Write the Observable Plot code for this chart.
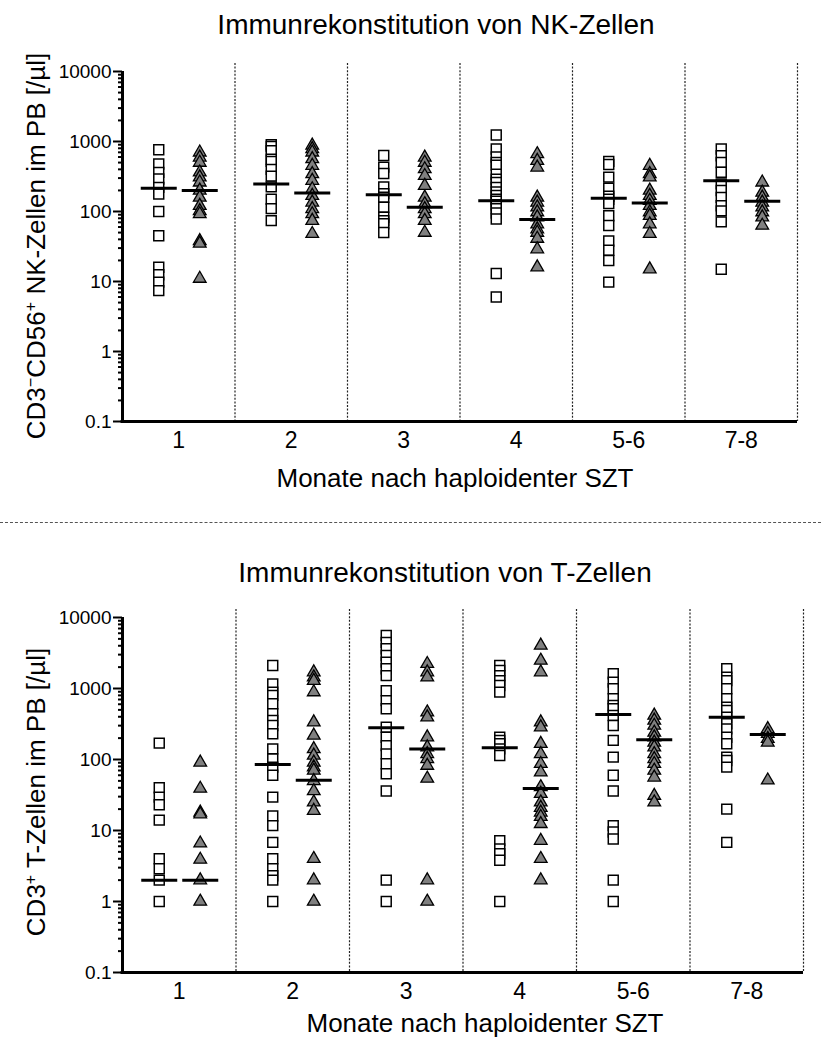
<!DOCTYPE html>
<html>
<head>
<meta charset="utf-8">
<script src="https://cdn.jsdelivr.net/npm/d3@7"></script>
<script src="https://cdn.jsdelivr.net/npm/@observablehq/plot@0.6"></script>
<style>
  body { margin: 0; background: #fff; font-family: "Liberation Sans", Arial, sans-serif; color: #000; }
  #wrap { position: relative; width: 821px; height: 1046px; overflow: hidden; background: #fff; }
  .abs { position: absolute; white-space: nowrap; }
  .txt { z-index: 2; }
  .ctr { transform: translate(-50%, -50%); }
  .rot { transform: translate(-50%, -50%) rotate(-90deg); }
  .title { font-size: 28px; }
  .xlab { font-size: 26px; }
  .ylab { font-size: 26px; }
  sup { font-size: 0.62em; vertical-align: 0.55em; line-height: 0; }
  .sep { position: absolute; left: 0; width: 821px; top: 522px; border-top: 1.3px dashed #555; height: 0; }
</style>
</head>
<body>
<div id="wrap">
  <div id="p1" class="abs" style="left:0; top:0;"></div>
  <div id="p2" class="abs" style="left:0; top:530px;"></div>
  <div class="abs txt ctr title" style="left:436px; top:25px;">Immunrekonstitution von NK-Zellen</div>
  <div class="abs txt rot ylab" style="left:36px; top:246px;">CD3<sup>−</sup>CD56<sup>+</sup> NK-Zellen im PB [/µl]</div>
  <div class="abs txt ctr xlab" style="left:455px; top:478px;">Monate nach haploidenter SZT</div>
  <div class="sep"></div>
  <div class="abs txt ctr title" style="left:445px; top:573px;">Immunrekonstitution von T-Zellen</div>
  <div class="abs txt rot ylab" style="left:36px; top:792px;">CD3<sup>+</sup> T-Zellen im PB [/µl]</div>
  <div class="abs txt ctr xlab" style="left:485px; top:1023px;">Monate nach haploidenter SZT</div>
</div>
<script>
// ---------- data ----------
const categories = ["1", "2", "3", "4", "5-6", "7-8"];
const yTicks = [0.1, 1, 10, 100, 1000, 10000];
const yTickLabels = ["0.1", "1", "10", "100", "1000", "10000"];

// NK cells (squares = group A, triangles = group B), one list per category
const nkSquares = [
  [764, 477, 362, 292, 221, 178, 100, 45, 16, 12.5, 9.8, 7.4],
  [900, 850, 740, 560, 520, 400, 320, 225, 150, 110, 74],
  [630, 430, 350, 225, 180, 160, 115, 83, 74, 67, 50],
  [1240, 780, 600, 500, 460, 340, 290, 260, 220, 190, 170, 150, 140, 125, 110, 95, 78, 13, 6],
  [520, 470, 310, 215, 165, 150, 130, 87, 63, 38, 28, 20, 9.8],
  [782, 627, 500, 363, 248, 200, 159, 121, 102, 71, 15]
];
const nkTriangles = [
  [700, 593, 500, 363, 309, 261, 200, 159, 121, 102, 92, 38, 35, 11],
  [880, 782, 700, 563, 452, 344, 276, 209, 168, 135, 109, 92, 74, 48],
  [593, 500, 404, 324, 234, 159, 128, 109, 92, 74, 50],
  [663, 532, 427, 159, 135, 115, 98, 83, 66, 56, 50, 41, 29, 16],
  [452, 344, 309, 200, 168, 143, 121, 98, 87, 66, 48, 15],
  [261, 187, 159, 135, 115, 98, 83, 63]
];
const nkSquareMedians = [214, 248, 174, 143, 154, 276];
const nkTriangleMedians = [200, 184, 115, 77, 132, 140];

// T cells
const tSquares = [
  [170, 40, 29.5, 23, 14, 4, 2.9, 2, 1],
  [2110, 1160, 890, 800, 610, 440, 355, 301, 230, 141, 102, 78, 60, 29.5, 16, 11.7, 6.8, 4, 2.9, 2.3, 2, 1],
  [5570, 4460, 3620, 2920, 2350, 1900, 1520, 930, 675, 518, 285, 206, 157, 120, 87, 63, 36, 2, 1],
  [2110, 1790, 1520, 1290, 1100, 890, 206, 186, 167, 141, 114, 7.2, 5.5, 4.7, 3.8, 1],
  [1610, 1230, 990, 716, 575, 518, 417, 301, 186, 108, 60, 36, 11.7, 9.5, 7.6, 2, 1],
  [1900, 1440, 1290, 990, 716, 546, 492, 394, 318, 270, 206, 167, 108, 97, 78, 20, 6.8]
];
const tTriangles = [
  [91, 39, 18, 17, 6.6, 3.9, 2, 1],
  [1700, 1440, 1290, 890, 335, 218, 141, 114, 91, 78, 70, 50, 36, 25, 19, 4, 2, 1],
  [2230, 1700, 1440, 463, 394, 206, 149, 120, 102, 82, 54, 2, 1],
  [4040, 2480, 1700, 335, 285, 167, 120, 87, 66, 41, 33, 25, 21, 18, 15.6, 12.4, 7.2, 4, 2],
  [417, 355, 301, 240, 206, 174, 149, 120, 102, 87, 70, 56, 31, 25],
  [270, 230, 196, 174, 51]
];
const tSquareMedians = [2, 85, 279, 146, 430, 394];
const tTriangleMedians = [2, 51, 141, 39, 189, 225];

// ---------- drawing ----------
const hline = { draw(ctx) { ctx.moveTo(-18, 0); ctx.lineTo(18, 0); } };
const minorTicks = d3.range(-1, 4).flatMap(e => d3.range(2, 10).map(m => m * Math.pow(10, e)));

function rows(lists) {
  return lists.flatMap((vals, i) => vals.map(v => ({ x: i + 1, v })));
}
function medRows(meds) { return meds.map((v, i) => ({ x: i + 1, v })); }

function panel(sq, tri, sqMed, triMed, o) {
  const dividers = categories.map((c, i) => i + 1.5);
  return Plot.plot({
    width: 821,
    height: o.height,
    marginTop: o.mt,
    marginBottom: o.mb,
    marginLeft: 122,
    marginRight: o.mr,
    style: { fontFamily: "Liberation Sans, Arial, sans-serif", color: "#000", background: "transparent", overflow: "visible" },
    x: { type: "linear", domain: [0.5, 6.5], axis: null },
    y: { type: "log", domain: [0.1, 10000], axis: null },
    marks: [
      Plot.ruleX(dividers, { stroke: "#222", strokeWidth: 1.2, strokeDasharray: "2,1.6", insetTop: -8 }),
      Plot.axisY({ ticks: minorTicks, tickSize: 4, tickFormat: () => "", strokeWidth: 2, label: null }),
      Plot.axisY({ ticks: yTicks, tickSize: 9, tickPadding: 2, fontSize: 19, strokeWidth: 2,
                   tickFormat: d => yTickLabels[yTicks.indexOf(d)], label: null }),
      Plot.axisX({ ticks: categories.map((c, i) => i + 1), tickSize: 0, tickPadding: o.tp, fontSize: 23,
                   tickFormat: d => categories[d - 1], label: null }),
      Plot.ruleX([0.5], { strokeWidth: 3, stroke: "#000" }),
      Plot.ruleY([0.1], { strokeWidth: 3, stroke: "#000", insetLeft: -1.5 }),
      Plot.dot(rows(sq), { x: "x", y: "v", symbol: "square", r: 5.6, fill: "#fff", stroke: "#000", strokeWidth: 1.5, dx: -20 }),
      Plot.dot(rows(tri), { x: "x", y: "v", symbol: "triangle", r: 4.7, fill: "#808080", stroke: "#000", strokeWidth: 1.3, dx: 21 }),
      Plot.dot(medRows(sqMed), { x: "x", y: "v", symbol: hline, r: 1, fill: "none", stroke: "#000", strokeWidth: 3, dx: -20 }),
      Plot.dot(medRows(triMed), { x: "x", y: "v", symbol: hline, r: 1, fill: "none", stroke: "#000", strokeWidth: 3, dx: 21 })
    ]
  });
}

document.getElementById("p1").append(
  panel(nkSquares, nkTriangles, nkSquareMedians, nkTriangleMedians, { height: 470, mt: 71, mb: 49, mr: 24, tp: 10 })
);
document.getElementById("p2").append(
  panel(tSquares, tTriangles, tSquareMedians, tTriangleMedians, { height: 490, mt: 87, mb: 48, mr: 18, tp: 10 })
);
</script>
</body>
</html>
